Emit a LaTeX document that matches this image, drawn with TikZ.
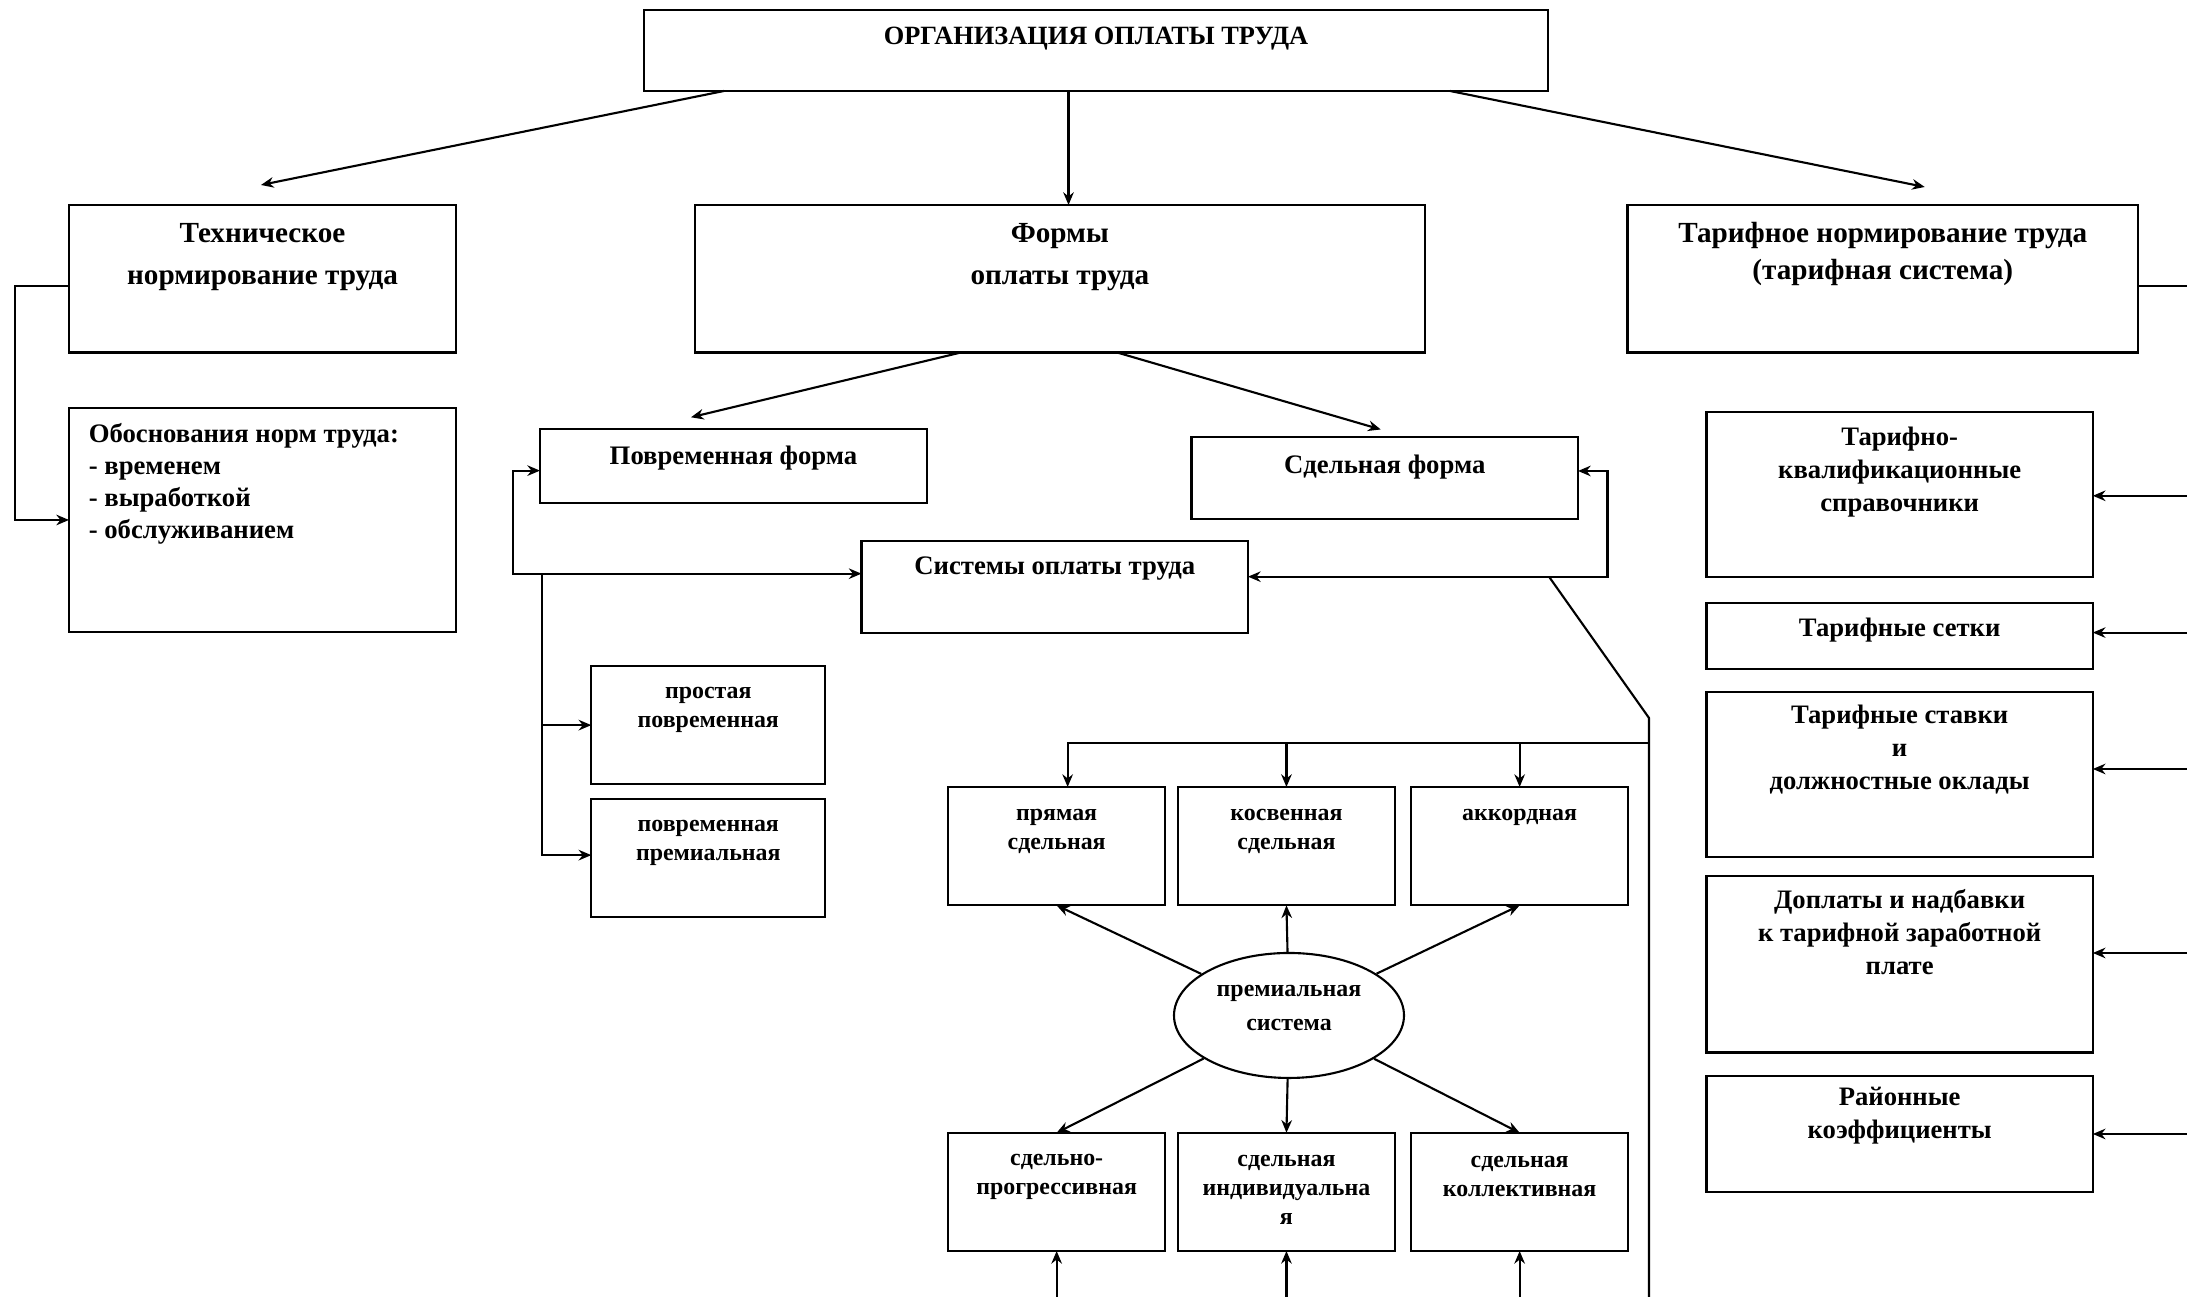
\documentclass[tikz,border=0pt]{standalone}
\usepackage{fontspec}
\setmainfont{Liberation Serif}
\usetikzlibrary{positioning}
\usetikzlibrary{arrows.meta, shapes.geometric}

\tikzset{
box/.style={draw,semithick,rectangle,inner sep=0pt,outer sep=0pt},
orgtext/.style={font=\bfseries\fontsize{7.5}{9}\selectfont,inner sep=0pt},
headtext/.style={font=\bfseries\fontsize{8.3}{12}\selectfont,align=center,inner sep=0pt},
formtext/.style={font=\bfseries\fontsize{7.6}{9.1}\selectfont,align=center,inner sep=0pt},
kindtext/.style={font=\bfseries\fontsize{6.8}{8.25}\selectfont,align=center,inner sep=0pt},
tarifftext/.style={font=\bfseries\fontsize{7.58}{9.3}\selectfont,align=center,inner sep=0pt},
}

\begin{document}
\begin{tikzpicture}[>={Stealth[length=3.6pt,width=3pt]},semithick]
\useasboundingbox (0,0) rectangle (21.87,12.97);
\node[box,minimum width=9.04cm,minimum height=0.81cm] (org) at (10.96,12.465) {};
\node[orgtext] (orgtxt) at ([yshift=-0.29cm]org.north) {ОРГАНИЗАЦИЯ ОПЛАТЫ ТРУДА};

\node[box,minimum width=3.87cm,minimum height=1.475cm] (tech) at (2.625,10.1825) {};
\node[headtext] (techtxt) at ([yshift=-0.52cm]tech.north) {Техническое\\нормирование труда};
\node[box,minimum width=7.305cm,minimum height=1.475cm] (forms) at (10.598,10.1825) {};
\node[headtext] (formstxt) at ([yshift=-0.52cm]forms.north) {Формы\\оплаты труда};
\node[box,minimum width=5.105cm,minimum height=1.475cm] (tarif) at (18.8275,10.1825) {};
\node[headtext,font=\bfseries\fontsize{8.3}{10.4}\selectfont] (tariftxt) at ([yshift=-0.49cm]tarif.north) {Тарифное нормирование труда\\(тарифная система)};

\node[box,minimum width=3.87cm,minimum height=2.247cm] (obosn) at (2.625,7.77) {};
\node[formtext,align=left,anchor=north west] (obosntxt) at ([xshift=0.187cm,yshift=-0.15cm]obosn.north west) {Обоснования норм труда:\\- временем\\- выработкой\\- обслуживанием};

\node[box,minimum width=3.87cm,minimum height=0.737cm] (povr) at (7.335,8.3085) {};
\node[formtext] (povrtxt) at ([yshift=-0.29cm]povr.north) {Повременная форма};
\node[box,minimum width=3.865cm,minimum height=0.816cm] (sdel) at (13.8475,8.192) {};
\node[formtext] (sdeltxt) at ([yshift=-0.3cm]sdel.north) {Сдельная форма};
\node[box,minimum width=3.865cm,minimum height=0.921cm] (syst) at (10.5475,7.1035) {};
\node[formtext] (systtxt) at ([yshift=-0.28cm]syst.north) {Системы оплаты труда};

\node[box,minimum width=2.34cm,minimum height=1.183cm] (prost) at (7.083,5.7185) {};
\node[kindtext] (prosttxt) at ([yshift=-0.44cm]prost.north) {простая\\повременная};
\node[box,minimum width=2.34cm,minimum height=1.183cm,below=0.147cm of prost] (povprem) {};
\node[kindtext] (povpremtxt) at ([yshift=-0.44cm]povprem.north) {повременная\\премиальная};

\node[box,minimum width=2.165cm,minimum height=1.184cm] (pryam) at (10.5665,4.508) {};
\node[kindtext] (pryamtxt) at ([yshift=-0.44cm]pryam.north) {прямая\\сдельная};
\node[box,minimum width=2.165cm,minimum height=1.184cm,right=0.133cm of pryam] (kosv) {};
\node[kindtext] (kosvtxt) at ([yshift=-0.44cm]kosv.north) {косвенная\\сдельная};
\node[box,minimum width=2.165cm,minimum height=1.184cm,right=0.167cm of kosv] (akk) {};
\node[kindtext] (akktxt) at ([yshift=-0.3cm]akk.north) {аккордная};

\node[draw,ellipse,minimum width=2.3cm,minimum height=1.25cm,inner sep=0pt] (prem) at (12.89,2.815) {};
\node[kindtext,font=\bfseries\fontsize{6.8}{9.56}\selectfont] (premtxt) at ([yshift=0.077cm]prem.center) {премиальная\\система};

\node[box,minimum width=2.165cm,minimum height=1.182cm] (progr) at (10.5665,1.051) {};
\node[kindtext] (progrtxt) at ([yshift=-0.445cm]progr.north) {сдельно-\\прогрессивная};
\node[box,minimum width=2.165cm,minimum height=1.182cm,right=0.133cm of progr] (indiv) {};
\node[kindtext] (indivtxt) at ([yshift=-0.575cm]indiv.north) {сдельная\\индивидуальна\\я};
\node[box,minimum width=2.165cm,minimum height=1.182cm,right=0.167cm of indiv] (koll) {};
\node[kindtext] (kolltxt) at ([yshift=-0.435cm]koll.north) {сдельная\\коллективная};

\node[box,minimum width=3.863cm,minimum height=1.65cm] (tks) at (18.9965,8.025) {};
\node[tarifftext] (tkstxt) at ([yshift=-0.6cm]tks.north) {Тарифно-\\квалификационные\\справочники};
\node[box,minimum width=3.863cm,minimum height=0.656cm,below=0.264cm of tks] (setki) {};
\node[tarifftext] (setkitxt) at ([yshift=-0.27cm]setki.north) {Тарифные сетки};
\node[box,minimum width=3.863cm,minimum height=1.649cm,below=0.227cm of setki] (stavki) {};
\node[tarifftext] (stavkitxt) at ([yshift=-0.58cm]stavki.north) {Тарифные ставки\\и\\должностные оклады};
\node[box,minimum width=3.863cm,minimum height=1.765cm,below=0.194cm of stavki] (dopl) {};
\node[tarifftext] (dopltxt) at ([yshift=-0.56cm]dopl.north) {Доплаты и надбавки\\к тарифной заработной\\плате};
\node[box,minimum width=3.863cm,minimum height=1.157cm,below=0.235cm of dopl] (raion) {};
\node[tarifftext] (raiontxt) at ([yshift=-0.4cm]raion.north) {Районные\\коэффициенты};

\draw[->] ([xshift=-3.72cm]org.south) -- ([xshift=-0.015cm,yshift=0.2cm]tech.north);
\draw[->] ([xshift=-0.275cm]org.south) -- ([xshift=-0.275cm]org.south |- forms.north);
\draw[->] ([xshift=3.54cm]org.south) -- ([xshift=0.42cm,yshift=0.18cm]tarif.north);
\draw[->] ([xshift=-0.988cm]forms.south) -- ([xshift=-0.425cm,yshift=0.12cm]povr.north);
\draw[->] ([xshift=0.572cm]forms.south) -- ([xshift=-0.04cm,yshift=0.075cm]sdel.north);

\coordinate (techl) at (0.154,10.11);
\draw[->] (techl -| tech.west) -- (techl) |- (obosn.west);
\coordinate (tarifr) at (21.87,10.11);
\draw (tarifr -| tarif.east) -- (tarifr);

\coordinate (povrl) at (5.133,7.233);
\draw[<->] ([yshift=-0.045cm]povr.west) -| (povrl) -- (povrl -| syst.west);
\coordinate (povrd) at (5.42,7.233);
\draw[->] (povrd) |- ([yshift=0.03cm]povprem.west);
\draw[->] (povrd |- prost.west) -- (prost.west);

\coordinate (sdelr) at (16.075,7.203);
\draw[<->] ([yshift=0.068cm]sdel.east) -| (sdelr) -- (sdelr -| syst.east);
\coordinate (kink) at (16.49,5.79);
\coordinate (bus) at (16.49,5.542);
\draw ([xshift=-0.585cm]sdelr) -- (kink) -- (kink |- 0,0);
\draw[->] (bus) -| ([xshift=0.11cm]pryam.north);
\draw[->] (bus -| kosv.north) -- (kosv.north);
\draw[->] (bus -| akk.north) -- (akk.north);

\draw[->] (prem) -- (pryam.south);
\draw[->] (prem) -- (kosv.south);
\draw[->] (prem) -- (akk.south);
\draw[->] (prem) -- (progr.north);
\draw[->] (prem) -- (indiv.north);
\draw[->] (prem) -- (koll.north);
\draw[->] (progr.south |- 0,0) -- (progr.south);
\draw[->] (indiv.south |- 0,0) -- (indiv.south);
\draw[->] (koll.south |- 0,0) -- (koll.south);

\coordinate (r1) at (21.87,8.012);
\coordinate (r2) at (21.87,6.644);
\coordinate (r3) at (21.87,5.28);
\coordinate (r4) at (21.87,3.44);
\coordinate (r5) at (21.87,1.63);
\draw[->] (r1) -- (r1 -| tks.east);
\draw[->] (r2) -- (r2 -| setki.east);
\draw[->] (r3) -- (r3 -| stavki.east);
\draw[->] (r4) -- (r4 -| dopl.east);
\draw[->] (r5) -- (r5 -| raion.east);
\end{tikzpicture}
\end{document}
